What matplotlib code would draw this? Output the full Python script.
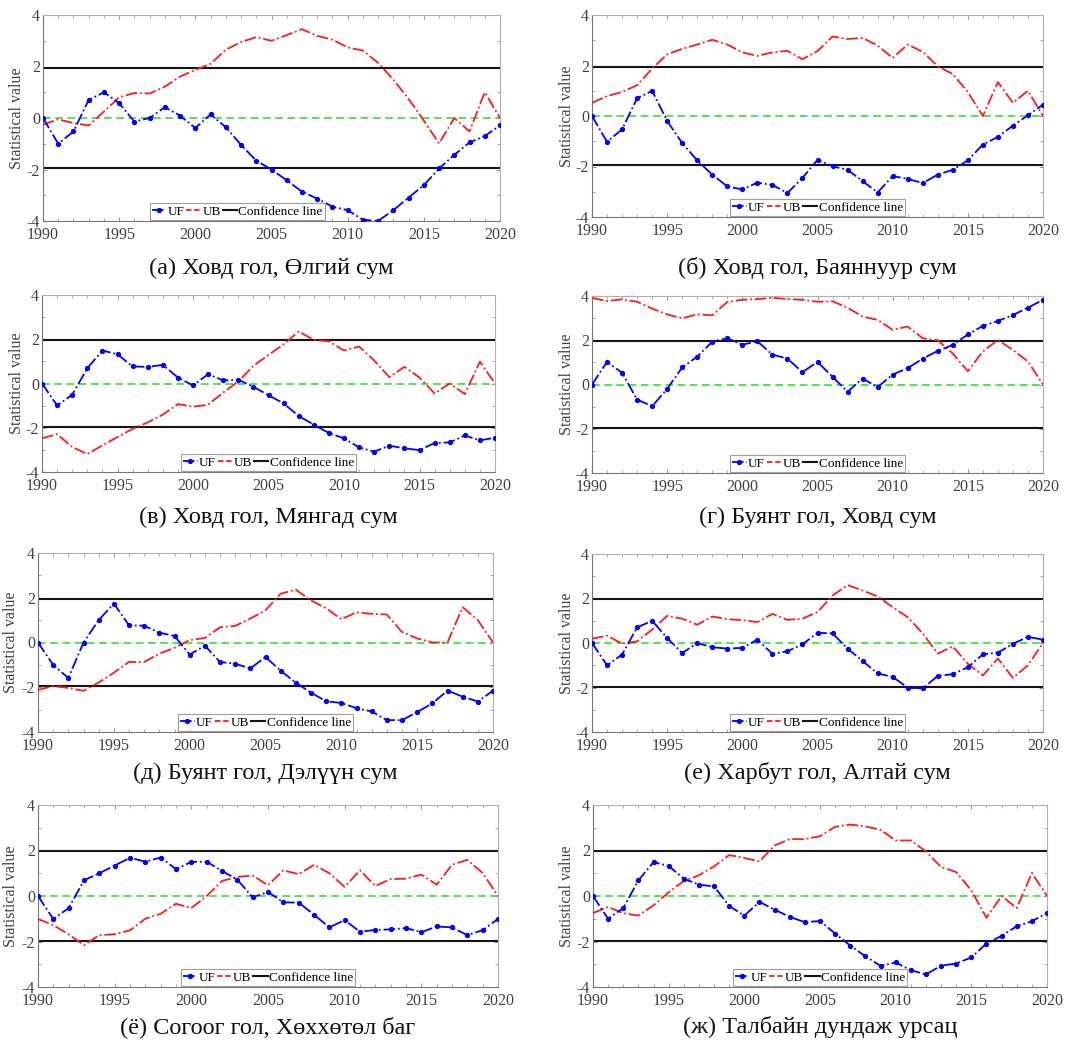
import numpy as np
import matplotlib
matplotlib.use("Agg")
import matplotlib.pyplot as plt
from matplotlib.lines import Line2D
from matplotlib.ticker import MultipleLocator

plt.rcParams["font.family"] = ["Liberation Serif", "DejaVu Serif"]
plt.rcParams["axes.unicode_minus"] = False

years = np.arange(1990, 2021)

# Mann-Kendall forward (UF) and backward (UB) statistics per station
uf_a = [0.0, -1.0, -0.52, 0.7, 1.0, 0.57, -0.14, 0.0, 0.42, 0.09, -0.39, 0.14, -0.36, -1.04, -1.66, -2.0,
        -2.42, -2.86, -3.13, -3.44, -3.58, -3.95, -4.0, -3.58, -3.09, -2.61, -1.96, -1.43, -0.95, -0.7, -0.29]
ub_a = [-0.26, -0.05, -0.2, -0.29, 0.25, 0.8, 0.97, 0.95, 1.22, 1.61, 1.87, 2.1, 2.65, 2.95, 3.14, 3.0,
        3.22, 3.45, 3.19, 3.04, 2.74, 2.62, 2.14, 1.49, 0.74, -0.1, -0.99, 0.0, -0.52, 1.0, 0.0]

uf_b = [0.0, -1.02, -0.53, 0.7, 1.0, -0.2, -1.07, -1.76, -2.32, -2.79, -2.91, -2.64, -2.73, -3.05, -2.45, -1.74,
        -1.99, -2.13, -2.58, -3.03, -2.38, -2.49, -2.66, -2.32, -2.13, -1.76, -1.13, -0.83, -0.38, 0.03, 0.45]
ub_b = [0.52, 0.79, 0.95, 1.22, 1.88, 2.44, 2.66, 2.83, 3.02, 2.83, 2.52, 2.38, 2.52, 2.58, 2.25, 2.57,
        3.15, 3.05, 3.09, 2.79, 2.3, 2.83, 2.54, 1.97, 1.66, 0.95, 0.0, 1.34, 0.52, 1.0, 0.0]

uf_v = [0.0, -0.99, -0.51, 0.69, 1.49, 1.32, 0.77, 0.75, 0.84, 0.27, -0.09, 0.42, 0.14, 0.17, -0.15, -0.53,
        -0.9, -1.47, -1.86, -2.24, -2.48, -2.89, -3.08, -2.81, -2.93, -3.01, -2.69, -2.66, -2.35, -2.57, -2.45]
ub_v = [-2.48, -2.29, -2.87, -3.19, -2.8, -2.42, -2.05, -1.76, -1.41, -0.93, -1.05, -0.96, -0.41, 0.09, 0.8, 1.29,
        1.77, 2.35, 1.97, 1.91, 1.49, 1.67, 1.04, 0.29, 0.75, 0.27, -0.45, 0.0, -0.48, 0.99, 0.0]

uf_g = [0.0, 1.02, 0.53, -0.68, -0.98, -0.2, 0.77, 1.26, 1.94, 2.09, 1.8, 1.95, 1.35, 1.17, 0.56, 1.02,
        0.35, -0.33, 0.27, -0.12, 0.45, 0.74, 1.17, 1.52, 1.79, 2.26, 2.65, 2.87, 3.14, 3.47, 3.83]
ub_g = [3.92, 3.77, 3.85, 3.74, 3.43, 3.17, 2.99, 3.17, 3.13, 3.73, 3.83, 3.86, 3.92, 3.86, 3.83, 3.74,
        3.76, 3.47, 3.07, 2.92, 2.47, 2.62, 2.09, 2.0, 1.4, 0.6, 1.49, 2.02, 1.56, 1.04, 0.0]

uf_d = [0.0, -1.0, -1.59, 0.0, 1.0, 1.74, 0.77, 0.75, 0.44, 0.29, -0.54, -0.14, -0.87, -0.95, -1.16, -0.65,
        -1.26, -1.8, -2.24, -2.63, -2.7, -2.94, -3.08, -3.47, -3.47, -3.11, -2.72, -2.15, -2.42, -2.64, -2.15]
ub_d = [-2.12, -1.95, -2.03, -2.16, -1.79, -1.35, -0.87, -0.87, -0.5, -0.24, 0.11, 0.2, 0.68, 0.74, 1.07, 1.44,
        2.18, 2.36, 1.88, 1.53, 1.04, 1.35, 1.28, 1.25, 0.47, 0.18, 0.0, 0.0, 1.58, 1.0, 0.0]

uf_e = [0.0, -1.0, -0.52, 0.7, 1.0, 0.22, -0.45, 0.0, -0.19, -0.25, -0.22, 0.15, -0.49, -0.37, -0.06, 0.46,
        0.43, -0.25, -0.81, -1.37, -1.52, -2.01, -2.04, -1.48, -1.4, -1.09, -0.51, -0.43, -0.04, 0.28, 0.15]
ub_e = [0.19, 0.33, -0.03, 0.07, 0.6, 1.22, 1.09, 0.82, 1.19, 1.07, 1.03, 0.94, 1.31, 1.04, 1.09, 1.39,
        2.13, 2.6, 2.36, 2.09, 1.61, 1.16, 0.43, -0.48, -0.15, -0.93, -1.46, -0.7, -1.57, -1.0, 0.0]

uf_yo = [0.0, -1.01, -0.53, 0.69, 1.0, 1.34, 1.68, 1.51, 1.69, 1.18, 1.5, 1.51, 1.1, 0.72, -0.06, 0.18,
         -0.28, -0.29, -0.82, -1.38, -1.06, -1.57, -1.49, -1.47, -1.41, -1.59, -1.34, -1.38, -1.72, -1.5, -1.01]
ub_yo = [-1.01, -1.28, -1.69, -2.16, -1.72, -1.68, -1.51, -1.0, -0.78, -0.34, -0.53, 0.0, 0.66, 0.84, 0.9, 0.47,
         1.13, 0.96, 1.37, 1.0, 0.4, 1.13, 0.44, 0.75, 0.76, 0.94, 0.5, 1.37, 1.59, 1.01, 0.0]

uf_zh = [0.0, -1.0, -0.53, 0.69, 1.49, 1.32, 0.76, 0.5, 0.42, -0.44, -0.86, -0.26, -0.6, -0.92, -1.15, -1.1,
         -1.65, -2.18, -2.65, -3.07, -2.92, -3.26, -3.45, -3.06, -2.97, -2.7, -2.09, -1.75, -1.33, -1.11, -0.75]
ub_zh = [-0.75, -0.48, -0.76, -0.86, -0.41, 0.16, 0.66, 0.91, 1.3, 1.8, 1.67, 1.52, 2.22, 2.5, 2.5, 2.63,
         3.04, 3.14, 3.06, 2.91, 2.44, 2.44, 1.96, 1.27, 1.05, 0.25, -0.96, 0.0, -0.53, 1.01, 0.0]

captions = [
    "(а) Ховд гол, Өлгий сум",
    "(б) Ховд гол, Баяннуур сум",
    "(в) Ховд гол, Мянгад сум",
    "(г) Буянт гол, Ховд сум",
    "(д) Буянт гол, Дэлүүн сум",
    "(е) Харбут гол, Алтай сум",
    "(ё) Согоог гол, Хөххөтөл баг",
    "(ж) Талбайн дундаж урсац",
]
uf_series = [uf_a, uf_b, uf_v, uf_g, uf_d, uf_e, uf_yo, uf_zh]
ub_series = [ub_a, ub_b, ub_v, ub_g, ub_d, ub_e, ub_yo, ub_zh]
confidence = 1.96

W, H = 1083, 1042
# axes boxes in pixels: left, top, right, bottom
boxes = [
    (43, 15, 500, 221), (592, 15, 1043, 217),
    (42, 295, 495, 472), (592, 296, 1043, 473),
    (38, 553, 493, 732), (592, 554, 1043, 732),
    (38, 805, 498, 987), (593, 805, 1047, 987),
]
# right edge of the rotated y label, in pixels
ylabel_x = [25, 575, 25, 575, 19, 575, 19, 575]
caption_y = [268, 268, 517, 517, 773, 773, 1027, 1027]
legend_x = [0.425, 0.5, 0.5, 0.5, 0.5, 0.5, 0.5, 0.5]

fig = plt.figure(figsize=(W / 100, H / 100), dpi=100)
tick_color = "#404040"

for i, (l, t, r, b) in enumerate(boxes):
    ax = fig.add_axes([l / W, 1 - b / H, (r - l) / W, (b - t) / H])
    ax.axhline(0, color="#22dd22", lw=1.1, ls=(0, (5, 3)), zorder=1)
    ax.axhline(confidence, color="#151515", lw=1.5, zorder=2)
    ax.axhline(-confidence, color="#151515", lw=1.5, zorder=2)
    ax.plot(years, ub_series[i], color="#ff1a1a", lw=1.3, ls="-.", zorder=3)
    ax.plot(years, uf_series[i], color="#0000ff", lw=1.3, ls="-.", marker="o",
            markersize=2.8, zorder=4)

    ax.set_xlim(1990, 2020)
    ax.set_ylim(-4, 4)
    ax.xaxis.set_major_locator(MultipleLocator(5))
    ax.xaxis.set_minor_locator(MultipleLocator(1))
    ax.yaxis.set_major_locator(MultipleLocator(2))
    ax.yaxis.set_minor_locator(MultipleLocator(1))
    ax.tick_params(which="both", direction="in", top=True, right=True,
                   color="#999999", labelsize=11.5, labelcolor=tick_color)
    ax.tick_params(which="major", length=3)
    ax.tick_params(which="minor", length=2)
    ax.tick_params(axis="x", pad=4)
    ax.tick_params(axis="y", pad=2)
    for side in ("left", "bottom"):
        ax.spines[side].set_color("#777777")
    for side in ("top", "right"):
        ax.spines[side].set_color("#b0b0b0")
    ax.set_ylabel("Statistical value", fontsize=11.5, color=tick_color)
    ax.yaxis.set_label_coords((ylabel_x[i] - l) / (r - l), 0.5)

    handles = [
        Line2D([], [], color="#0000ff", ls="-.", marker="o", markersize=2.8, lw=1.3),
        Line2D([], [], color="#ff1a1a", ls=(0, (3, 1.5)), lw=1.3),
        Line2D([], [], color="#151515", lw=1.5),
    ]
    leg = ax.legend(handles, ["UF", "UB", "Confidence line"], loc="lower center",
                    bbox_to_anchor=(legend_x[i], 0.0), ncol=3, fontsize=9.5,
                    handlelength=1.1, handletextpad=0.1, columnspacing=0.15,
                    borderpad=0.15, borderaxespad=0.1, frameon=True, fancybox=False)
    leg.get_frame().set_edgecolor("#888888")
    leg.get_frame().set_linewidth(0.8)

    cx = (l + r) / 2 / W
    fig.text(cx, 1 - caption_y[i] / H, captions[i], ha="center", va="center",
             fontsize=17.5, color="#111111")

fig.savefig("out.png", dpi=100)
